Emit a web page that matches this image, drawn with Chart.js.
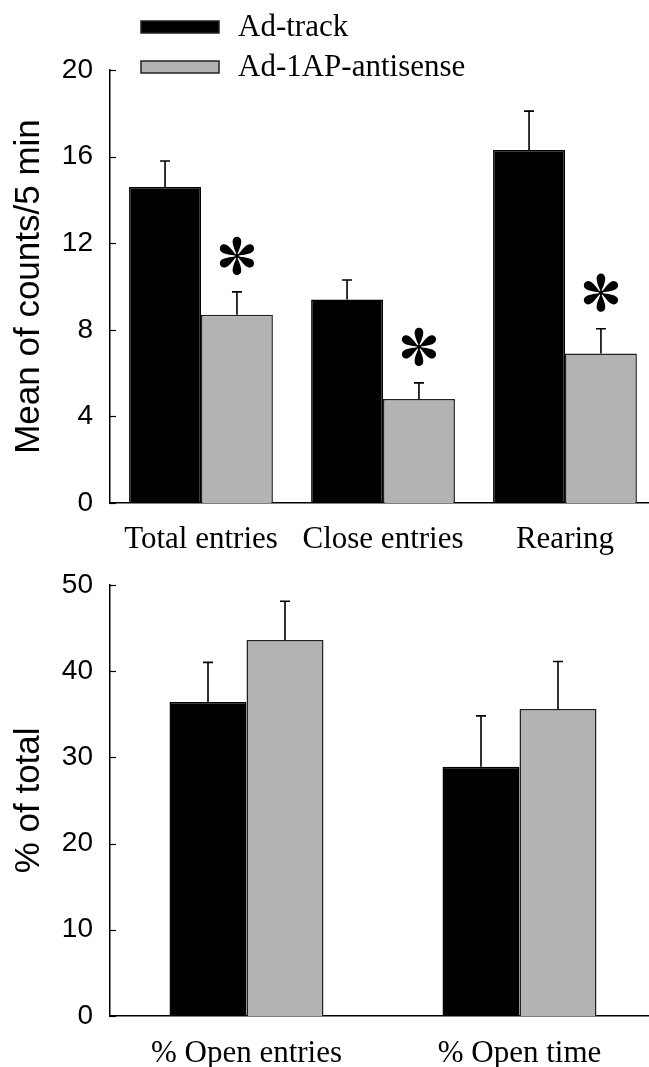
<!DOCTYPE html>
<html>
<head>
<meta charset="utf-8">
<script src="https://cdn.jsdelivr.net/npm/chart.js@4.4.0/dist/chart.umd.min.js"></script>
<style>
  html, body { margin: 0; padding: 0; background: #fff; overflow: hidden; width: 649px; height: 1067px; }
  canvas { display: block; }
  #openChart { margin-top: -17px; }
</style>
</head>
<body>
<canvas id="countsChart" width="656" height="568"></canvas>
<canvas id="openChart" width="656" height="516"></canvas>
<script>
// series
const seriesNames = ["Ad-track", "Ad-1AP-antisense"];
const seriesColors = ["#000000", "#b3b3b3"];

// top panel: counts per 5 min
const behaviours = ["Total entries", "Close entries", "Rearing"];
const trackCounts = [14.6, 9.4, 16.3];
const trackCountsErr = [1.2, 0.9, 1.8];
const antiCounts = [8.7, 4.8, 6.9];
const antiCountsErr = [1.05, 0.75, 1.15];
const antiCountsSig = [true, true, true];
const countTicks = [0, 4, 8, 12, 16, 20];

// bottom panel: % of total
const openMeasures = ["% Open entries", "% Open time"];
const trackOpen = [36.4, 28.9];
const trackOpenErr = [4.6, 5.9];
const antiOpen = [43.6, 35.6];
const antiOpenErr = [4.5, 5.5];
const openTicks = [0, 10, 20, 30, 40, 50];

const sansFont = "'Liberation Sans', Arial, sans-serif";
const serifFont = "'Liberation Serif', 'Times New Roman', serif";

// six teardrop petals, like the Times asterisk
function drawStar(ctx, cx, cy) {
  ctx.save();
  ctx.translate(cx, cy);
  ctx.fillStyle = "#000";
  for (let k = 0; k < 6; k++) {
    ctx.save();
    ctx.rotate(k * Math.PI / 3);
    ctx.beginPath();
    ctx.moveTo(0, 0);
    ctx.bezierCurveTo(-1, -4, -4.6, -10, -4.3, -14.8);
    ctx.arc(0, -14.8, 4.3, Math.PI, 0);
    ctx.bezierCurveTo(4.6, -10, 1, -4, 0, 0);
    ctx.fill();
    ctx.restore();
  }
  ctx.beginPath();
  ctx.arc(0, 0, 2.2, 0, Math.PI * 2);
  ctx.fill();
  ctx.restore();
}

const errorBarPlugin = {
  id: "errorBars",
  afterDatasetsDraw(chart, args, opts) {
    const ctx = chart.ctx;
    const y = chart.scales.y;
    ctx.save();
    ctx.strokeStyle = "#000";
    ctx.lineWidth = 1.6;
    chart.data.datasets.forEach((ds, di) => {
      const meta = chart.getDatasetMeta(di);
      meta.data.forEach((bar, i) => {
        const top = y.getPixelForValue(ds.data[i] + opts.errors[di][i]);
        ctx.beginPath();
        ctx.moveTo(bar.x, bar.y);
        ctx.lineTo(bar.x, top);
        ctx.moveTo(bar.x - 5, top);
        ctx.lineTo(bar.x + 5, top);
        ctx.stroke();
        if (opts.sig && opts.sig[di] && opts.sig[di][i]) {
          drawStar(ctx, bar.x, top - 36);
        }
      });
    });
    // inward tick marks on the y axis
    const left = chart.chartArea.left;
    ctx.lineWidth = 1.2;
    y.ticks.forEach(t => {
      const py = Math.round(y.getPixelForValue(t.value)) + 0.5;
      ctx.beginPath();
      ctx.moveTo(left, py);
      ctx.lineTo(left + 6, py);
      ctx.stroke();
    });
    ctx.restore();
  }
};

const legendPlugin = {
  id: "boxLegend",
  afterDraw(chart) {
    const ctx = chart.ctx;
    ctx.save();
    ctx.font = "31px " + serifFont;
    ctx.textBaseline = "middle";
    chart.data.datasets.forEach((ds, i) => {
      const cy = 27 + i * 40;
      ctx.fillStyle = ds.backgroundColor;
      ctx.fillRect(141, cy - 6, 78, 12);
      ctx.strokeStyle = "#222";
      ctx.lineWidth = 1.5;
      ctx.strokeRect(141, cy - 6, 78, 12);
      ctx.fillStyle = "#000";
      ctx.fillText(ds.label, 238, cy + 1);
    });
    ctx.restore();
  }
};

function makeDatasets(a, b) {
  return [a, b].map((d, i) => ({
    label: seriesNames[i],
    data: d,
    backgroundColor: seriesColors[i],
    borderColor: i === 0 ? "#000" : "#222",
    borderWidth: 1.5
  }));
}

function makeOptions(cfg) {
  return {
    responsive: false,
    animation: false,
    devicePixelRatio: 1,
    layout: { padding: { top: cfg.padTop, left: 0, right: 0, bottom: 0 } },
    datasets: { bar: { categoryPercentage: cfg.catPct, barPercentage: 1 } },
    plugins: {
      legend: { display: false },
      tooltip: { enabled: false },
      errorBars: { errors: cfg.errors, sig: cfg.sig }
    },
    scales: {
      x: {
        grid: { display: false, drawTicks: false },
        border: { display: true, color: "#000", width: 1.5 },
        ticks: { color: "#000", padding: cfg.labelPad, maxRotation: 0, autoSkip: false,
                 font: { family: serifFont, size: 31 } },
        afterFit: s => { s.height = cfg.xHeight; }
      },
      y: {
        min: 0,
        max: cfg.max,
        afterBuildTicks: s => { s.ticks = cfg.ticks.map(v => ({ value: v })); },
        grid: { display: false, drawTicks: false },
        border: { display: true, color: "#000", width: 1.5 },
        ticks: { color: "#000", padding: 17, font: { family: sansFont, size: 28 } },
        title: { display: true, text: cfg.title, color: "#000",
                 font: { family: sansFont, size: 35 }, padding: { top: 8, bottom: 0 } },
        afterFit: s => { s.width = 110; }
      }
    }
  };
}

new Chart(document.getElementById("countsChart"), {
  type: "bar",
  data: { labels: behaviours, datasets: makeDatasets(trackCounts, antiCounts) },
  options: makeOptions({
    padTop: 70, catPct: 0.79, labelPad: 18, xHeight: 65, max: 20, ticks: countTicks,
    title: "Mean of counts/5 min",
    errors: [trackCountsErr, antiCountsErr],
    sig: [null, antiCountsSig]
  }),
  plugins: [errorBarPlugin, legendPlugin]
});

new Chart(document.getElementById("openChart"), {
  type: "bar",
  data: { labels: openMeasures, datasets: makeDatasets(trackOpen, antiOpen) },
  options: makeOptions({
    padTop: 0, catPct: 0.564, labelPad: 19, xHeight: 51, max: 50, ticks: openTicks,
    title: "% of total",
    errors: [trackOpenErr, antiOpenErr],
    sig: null
  }),
  plugins: [errorBarPlugin]
});
</script>
</body>
</html>
